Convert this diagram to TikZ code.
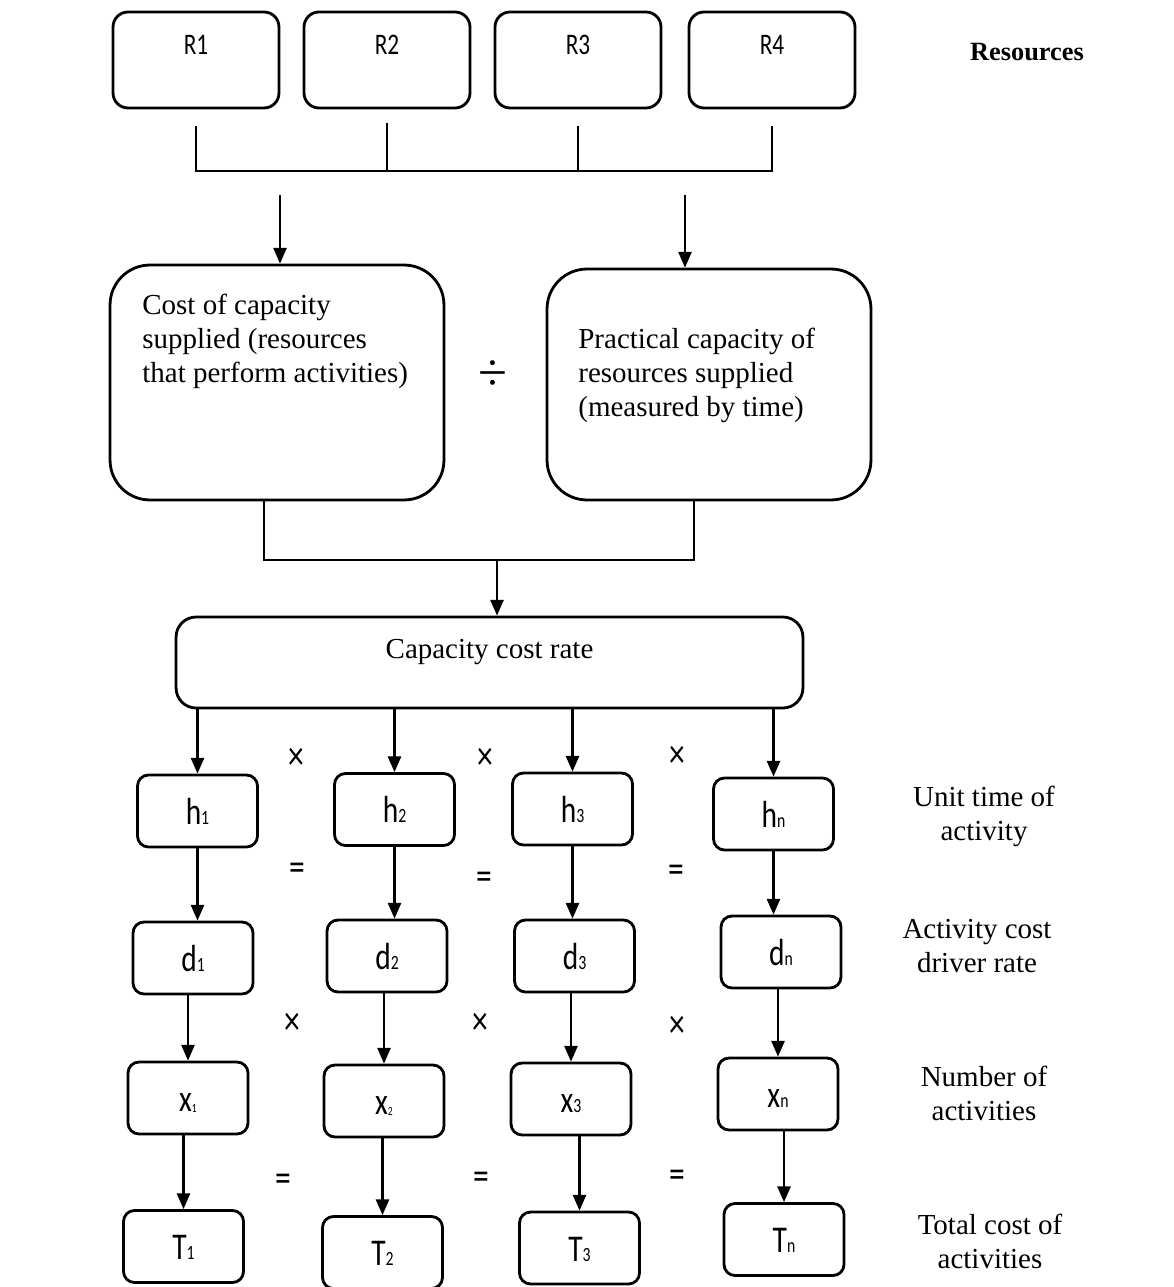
\documentclass[tikz,border=0pt]{standalone}
\usepackage{fontspec}
\setmainfont{Liberation Serif}
\newfontfamily\boxfont[FakeStretch=0.78]{Carlito}
\usetikzlibrary{arrows.meta,calc,positioning}
\newcommand\idx[1]{{\fontsize{11.5}{12}\selectfont #1}}
\newcommand\tinyidx[1]{\raisebox{-1pt}{\fontsize{7}{7}\selectfont #1}}

\begin{document}
\begin{tikzpicture}[x=0.02cm,y=-0.02cm,
  box/.style={draw,line width=1.6pt,inner sep=0pt},
  rbox/.style={box,rounded corners=0.3cm,minimum width=3.32cm,minimum height=1.92cm,
    font=\boxfont\fontsize{17}{20}\selectfont,text height=12pt,text depth=18pt},
  bigbox/.style={box,rounded corners=0.8cm},
  sbox/.style={box,rounded corners=0.22cm,minimum width=2.4cm,minimum height=1.44cm,
    font=\boxfont\fontsize{21.5}{26}\selectfont,text height=15pt,text depth=0pt},
  txt/.style={inner sep=0pt,font=\fontsize{16.5}{19.3}\selectfont},
  op/.style={inner sep=0pt,font=\boxfont\fontsize{23}{26}\selectfont},
  ln/.style={line width=1.3pt},
  arr/.style={ln,-{Triangle[length=9pt,width=7.5pt]}}]
\useasboundingbox (0,0) rectangle (1173,1287);

\node[rbox] (R1) at (196,60) {R1};
\node[rbox] (R2) at (387,60) {R2};
\node[rbox] (R3) at (578,60) {R3};
\node[rbox] (R4) at (772,60) {R4};
\node[txt,font=\bfseries\fontsize{15}{18}\selectfont] (res) at (1027,52) {Resources};

\coordinate (rb) at (477,171);
\draw[ln] ($(R1.south)+(0,17)$) -- (R1.south |- rb) -- (R4.south |- rb) -- ($(R4.south)+(0,17)$);
\draw[ln] ($(R2.south)+(0,14)$) -- (R2.south |- rb);
\draw[ln] ($(R3.south)+(0,17)$) -- (R3.south |- rb);

\node[bigbox,minimum width=6.68cm,minimum height=4.7cm] (cost) at (277,382.5) {};
\node[bigbox,minimum width=6.48cm,minimum height=4.62cm] (prac) at (709,384.5) {};
\node[txt,anchor=north west,align=left] (costtxt) at (142,294)
  {Cost of capacity\\supplied (resources\\that perform activities)};
\node[txt,anchor=north west,align=left] (practxt) at (578,328)
  {Practical capacity of\\resources supplied\\(measured by time)};
\node[txt,font=\fontsize{30}{32}\selectfont] (div) at (493,376) {÷};

\coordinate (a1) at (280,195);
\coordinate (a2) at (685,195);
\draw[arr] (a1) -- (a1 |- cost.north);
\draw[arr] (a2) -- (a2 |- prac.north);

\coordinate (b1) at (264,560);
\coordinate (b2) at (694,560);
\coordinate (lb) at (497,560);
\draw[ln] (b1 |- cost.south) -- (b1) -- (b2) -- (b2 |- prac.south);

\node[box,txt,rounded corners=0.4cm,minimum width=12.54cm,minimum height=1.82cm,
  text height=11pt,text depth=16pt] (cap) at (489.5,662.5) {Capacity cost rate};
\draw[arr] (lb) -- (lb |- cap.north);

\node[sbox] (h1) at (197.5,811) {h\idx{1}};
\node[sbox] (h2) at (394.5,809.5) {h\idx{2}};
\node[sbox] (h3) at (572.5,809) {h\idx{3}};
\node[sbox] (hn) at (773.5,814) {h\idx{n}};

\node[sbox] (d1) at (193,958) {d\idx{1}};
\node[sbox] (d2) at (387,956) {d\idx{2}};
\node[sbox] (d3) at (574.5,956) {d\idx{3}};
\node[sbox] (dn) at (781,952) {d\idx{n}};

\node[sbox] (x1) at (188,1098) {x\tinyidx{1}};
\node[sbox] (x2) at (384,1101) {x\tinyidx{2}};
\node[sbox] (x3) at (571,1099) {x\idx{3}};
\node[sbox] (xn) at (778,1094) {x\idx{n}};

\node[sbox] (T1) at (183.5,1246.5) {T\idx{1}};
\node[sbox] (T2) at (382.5,1252.5) {T\idx{2}};
\node[sbox] (T3) at (579.5,1248) {T\idx{3}};
\node[sbox] (Tn) at (784,1239.5) {T\idx{n}};

\draw[arr] (cap.south -| h1.north) -- (h1.north);
\draw[arr] (cap.south -| h2.north) -- (h2.north);
\draw[arr] (cap.south -| h3.north) -- (h3.north);
\draw[arr] (cap.south -| hn.north) -- (hn.north);

\draw[arr] (h1.south) -- (h1.south |- d1.north);
\draw[arr] (h2.south) -- (h2.south |- d2.north);
\draw[arr] (h3.south) -- (h3.south |- d3.north);
\draw[arr] (hn.south) -- (hn.south |- dn.north);

\draw[arr] (x1.north |- d1.south) -- (x1.north);
\draw[arr] (x2.north |- d2.south) -- (x2.north);
\draw[arr] (x3.north |- d3.south) -- (x3.north);
\draw[arr] (xn.north |- dn.south) -- (xn.north);

\draw[arr] (T1.north |- x1.south) -- (T1.north);
\draw[arr] (T2.north |- x2.south) -- (T2.north);
\draw[arr] (T3.north |- x3.south) -- (T3.north);
\draw[arr] (Tn.north |- xn.south) -- (Tn.north);

\node[op] (m1) at (296,759) {×};
\node[op] (m2) at (485,759) {×};
\node[op] (m3) at (677,757) {×};
\node[op] (e1) at (297,872) {=};
\node[op] (e2) at (484,881) {=};
\node[op] (e3) at (676,874) {=};
\node[op] (m4) at (292,1024) {×};
\node[op] (m5) at (480,1024) {×};
\node[op] (m6) at (677,1027) {×};
\node[op] (e4) at (283,1183) {=};
\node[op] (e5) at (481,1181) {=};
\node[op] (e6) at (677,1179) {=};

\node[txt,align=center] (lh) at (984,816) {Unit time of\\activity};
\node[txt,align=center] (ld) at (977,946) {Activity cost\\driver rate};
\node[txt,align=center] (lx) at (984,1093) {Number of\\activities};
\node[txt,align=center] (lt) at (990,1241) {Total cost of\\activities};

\end{tikzpicture}
\end{document}
